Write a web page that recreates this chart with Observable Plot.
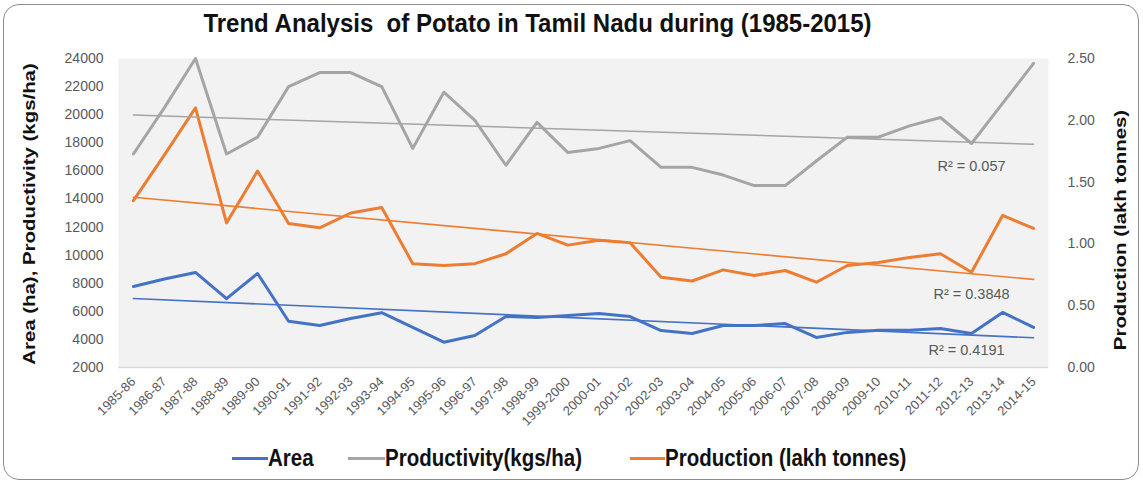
<!DOCTYPE html>
<html>
<head>
<meta charset="utf-8">
<script src="https://cdn.jsdelivr.net/npm/d3@7"></script>
<script src="https://cdn.jsdelivr.net/npm/@observablehq/plot@0.6"></script>
<style>
  html, body { margin: 0; padding: 0; background: #fff; }
  body { font-family: "Liberation Sans", Arial, sans-serif; }
  #wrap { position: relative; width: 1143px; height: 484px; overflow: hidden; background: #fff; }
  #border { position: absolute; left: 3px; top: 4px; width: 1136px; height: 476px; border: 1.5px solid #8c8c8c; border-radius: 16px; box-sizing: border-box; }
  #title { position: absolute; left: 0; top: 10px; width: 1075px; text-align: center; font-weight: bold; font-size: 24px; line-height: 28px; color: #111; transform: scaleY(1.06); white-space: pre; }
  #chart { position: absolute; left: 0; top: 42px; }
  .ytitle { position: absolute; white-space: nowrap; font-weight: bold; font-size: 17px; line-height: 20px; color: #111; transform: translate(-50%, -50%) rotate(-90deg) scaleX(1.2); }
  .sw { position: absolute; height: 3px; top: 457px; }
  .lt { position: absolute; top: 446px; font-weight: bold; font-size: 20.5px; line-height: 24px; color: #111; white-space: nowrap; transform: scaleY(1.17); transform-origin: left center; }
</style>
</head>
<body>
<div id="wrap">
  <div id="border"></div>
  <div id="title"></div>
  <div id="chart"></div>
  <div class="ytitle" id="ylTitle" style="left:30px; top:214px;"></div>
  <div class="ytitle" id="yrTitle" style="left:1121px; top:230px;"></div>
  <div id="legend"></div>
</div>
<script>
// ---- data ----
const years = ["1985-86","1986-87","1987-88","1988-89","1989-90","1990-91","1991-92","1992-93","1993-94","1994-95","1995-96","1996-97","1997-98","1998-99","1999-2000","2000-01","2001-02","2002-03","2003-04","2004-05","2005-06","2006-07","2007-08","2008-09","2009-10","2010-11","2011-12","2012-13","2013-14","2014-15"];
const area = [7770, 8300, 8770, 6900, 8690, 5290, 4990, 5490, 5900, 4850, 3800, 4280, 5630, 5560, 5700, 5840, 5630, 4630, 4420, 4990, 4990, 5130, 4140, 4500, 4650, 4650, 4780, 4420, 5920, 4850];
const productivity = [17200, 20500, 24000, 17200, 18400, 22000, 23000, 23000, 22000, 17600, 21600, 19600, 16400, 19450, 17300, 17600, 18150, 16250, 16250, 15700, 14950, 14950, 16700, 18400, 18400, 19200, 19800, 17950, 20800, 23650];
const production = [1.35, 1.72, 2.10, 1.17, 1.59, 1.165, 1.13, 1.25, 1.295, 0.84, 0.825, 0.84, 0.92, 1.085, 0.99, 1.03, 1.01, 0.73, 0.70, 0.79, 0.745, 0.785, 0.69, 0.825, 0.85, 0.89, 0.92, 0.77, 1.23, 1.125];
const leftTicks = [2000, 4000, 6000, 8000, 10000, 12000, 14000, 16000, 18000, 20000, 22000, 24000];
const rightTicks = [0, 0.5, 1, 1.5, 2, 2.5];
const r2Labels = ["R² = 0.057", "R² = 0.3848", "R² = 0.4191"];
const seriesNames = ["Area", "Productivity(kgs/ha)", "Production (lakh tonnes)"];
const titleText = "Trend Analysis  of Potato in Tamil Nadu during (1985-2015)";
const leftTitle = "Area (ha), Productivity (kgs/ha)";
const rightTitle = "Production (lakh tonnes)";

// ---- styles ----
const colors = { area: "#4472C4", productivity: "#A5A5A5", production: "#ED7D31" };

// secondary axis (0..2.5) mapped onto the primary domain (2000..24000)
const leftMin = 2000, leftMax = 24000, rightMax = 2.5;
const toLeft = p => leftMin + p * (leftMax - leftMin) / rightMax;

const rows = years.map((y, i) => ({ i, year: y, area: area[i], productivity: productivity[i], production: production[i], prodLeft: toLeft(production[i]) }));

function fit(ys) {
  const xs = d3.range(ys.length);
  const mx = d3.mean(xs), my = d3.mean(ys);
  const b = d3.sum(xs, (x, k) => (x - mx) * (ys[k] - my)) / d3.sum(xs, x => (x - mx) ** 2);
  const a = my - b * mx;
  return i => a + b * i;
}
const fitProd = fit(productivity), fitProduction = fit(rows.map(d => d.prodLeft)), fitArea = fit(area);
const labelIdx = years.indexOf("2012-13");

const chart = Plot.plot({
  width: 1143, height: 400,
  marginLeft: 118, marginRight: 95, marginTop: 16, marginBottom: 75,
  style: { fontFamily: "'Liberation Sans', Arial, sans-serif", color: "#595959", background: "transparent", overflow: "visible" },
  x: { type: "linear", domain: [-0.48, years.length - 1 + 0.48] },
  y: { domain: [leftMin, leftMax] },
  marks: [
    Plot.frame({ fill: "#f2f2f2", stroke: "none" }),
    Plot.ruleY([leftMin], { stroke: "#d9d9d9", strokeWidth: 1.5 }),
    Plot.axisY(leftTicks, { anchor: "left", tickSize: 0, tickPadding: 15, fontSize: 14, tickFormat: d => String(d), label: null }),
    Plot.axisY(rightTicks, { anchor: "right", y: toLeft, tickFormat: d => d.toFixed(2), tickSize: 0, tickPadding: 19, fontSize: 14, label: null }),
    Plot.axisX(d3.range(years.length), { tickFormat: i => years[i], tickRotate: -45, tickSize: 0, tickPadding: 12, fontSize: 13, label: null }),
    Plot.lineY(rows, { x: "i", y: "area", stroke: colors.area, strokeWidth: 3 }),
    Plot.lineY(rows, { x: "i", y: "productivity", stroke: colors.productivity, strokeWidth: 3 }),
    Plot.lineY(rows, { x: "i", y: "prodLeft", stroke: colors.production, strokeWidth: 3 }),
    Plot.linearRegressionY(rows, { x: "i", y: "area", stroke: colors.area, strokeWidth: 1.6, ci: 0 }),
    Plot.linearRegressionY(rows, { x: "i", y: "productivity", stroke: colors.productivity, strokeWidth: 1.6, ci: 0 }),
    Plot.linearRegressionY(rows, { x: "i", y: "prodLeft", stroke: colors.production, strokeWidth: 1.6, ci: 0 }),
    Plot.text([r2Labels[0]], { x: labelIdx, y: fitProd(labelIdx), text: d => d, dy: 24, fontSize: 14.5, fill: "#595959" }),
    Plot.text([r2Labels[1]], { x: labelIdx, y: fitProduction(labelIdx), text: d => d, dy: 21, fontSize: 14.5, fill: "#595959" }),
    Plot.text([r2Labels[2]], { x: labelIdx, y: fitArea(labelIdx), text: d => d, dy: 15, dx: -5, fontSize: 14.5, fill: "#595959" })
  ]
});
document.getElementById("chart").appendChild(chart);

document.getElementById("title").textContent = titleText;
document.getElementById("ylTitle").textContent = leftTitle;
document.getElementById("yrTitle").textContent = rightTitle;

// legend
const legendItems = [
  { name: seriesNames[0], color: colors.area, sx: 232, tx: 268 },
  { name: seriesNames[1], color: colors.productivity, sx: 348, tx: 385 },
  { name: seriesNames[2], color: colors.production, sx: 630, tx: 665 }
];
const legend = document.getElementById("legend");
legendItems.forEach(it => {
  const s = document.createElement("div");
  s.className = "sw"; s.style.left = it.sx + "px"; s.style.width = (it.tx - it.sx) + "px"; s.style.background = it.color;
  legend.appendChild(s);
  const t = document.createElement("div");
  t.className = "lt"; t.style.left = it.tx + "px"; t.textContent = it.name;
  legend.appendChild(t);
});
</script>
</body>
</html>
